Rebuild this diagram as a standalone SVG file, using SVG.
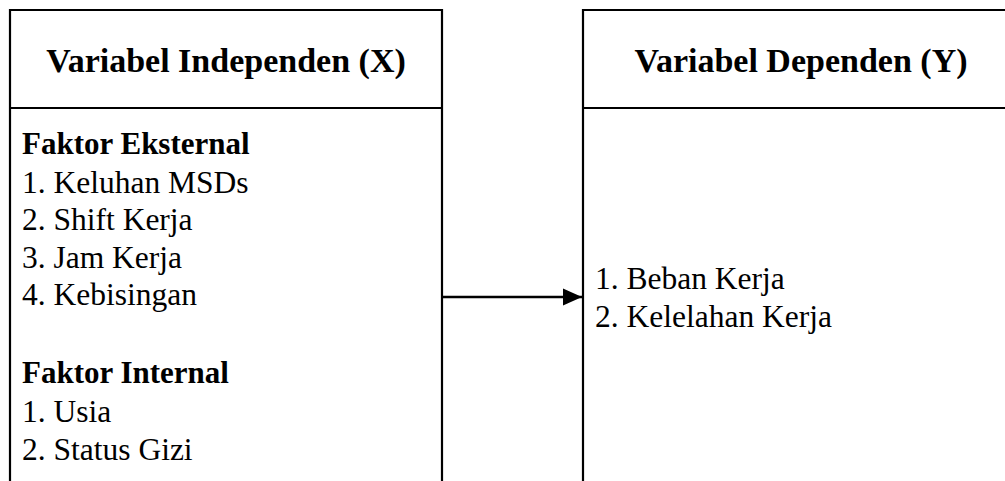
<svg xmlns="http://www.w3.org/2000/svg" width="1005" height="481" viewBox="0 0 1005 481">
  <style>
    .frame { fill: none; stroke: #000; stroke-width: 2.2; }
    .head { font-family: "Liberation Serif", "Times New Roman", serif; font-weight: bold; font-size: 34px; fill: #000; }
    .sub { font-family: "Liberation Serif", "Times New Roman", serif; font-weight: bold; font-size: 31px; fill: #000; }
    .item { font-family: "Liberation Serif", "Times New Roman", serif; font-size: 31.5px; fill: #000; }
    .link { stroke: #000; stroke-width: 2.4; fill: none; }
  </style>
  <defs>
    <marker id="arrowhead" markerUnits="userSpaceOnUse" markerWidth="20" markerHeight="18" refX="19" refY="9" orient="auto">
      <path d="M0,0.5 L19,9 L0,17.5 Z" fill="#000"/>
    </marker>
  </defs>
  <rect width="1005" height="481" fill="#fff"/>

  <!-- Independent variables box -->
  <g id="independen">
    <path class="frame" d="M10,482 V10 H442 V482"/>
    <line class="frame" x1="10" y1="108" x2="442" y2="108"/>
    <text class="head" x="226" y="72" text-anchor="middle">Variabel Independen (X)</text>
    <text class="sub" x="22" y="154">Faktor Eksternal</text>
    <text class="item" x="22" y="193">1. Keluhan MSDs</text>
    <text class="item" x="22" y="230">2. Shift Kerja</text>
    <text class="item" x="22" y="268">3. Jam Kerja</text>
    <text class="item" x="22" y="305">4. Kebisingan</text>
    <text class="sub" x="22" y="383">Faktor Internal</text>
    <text class="item" x="22" y="422">1. Usia</text>
    <text class="item" x="22" y="460">2. Status Gizi</text>
  </g>

  <!-- Dependent variables box -->
  <g id="dependen">
    <path class="frame" d="M583,482 V10 H1007"/>
    <line class="frame" x1="583" y1="108" x2="1007" y2="108"/>
    <text class="head" x="801" y="72" text-anchor="middle">Variabel Dependen (Y)</text>
    <text class="item" x="595" y="289">1. Beban Kerja</text>
    <text class="item" x="595" y="327">2. Kelelahan Kerja</text>
  </g>

  <!-- Connectors -->
  <g id="connectors">
    <line class="link" x1="442" y1="297" x2="582" y2="297" marker-end="url(#arrowhead)"/>
  </g>
</svg>
